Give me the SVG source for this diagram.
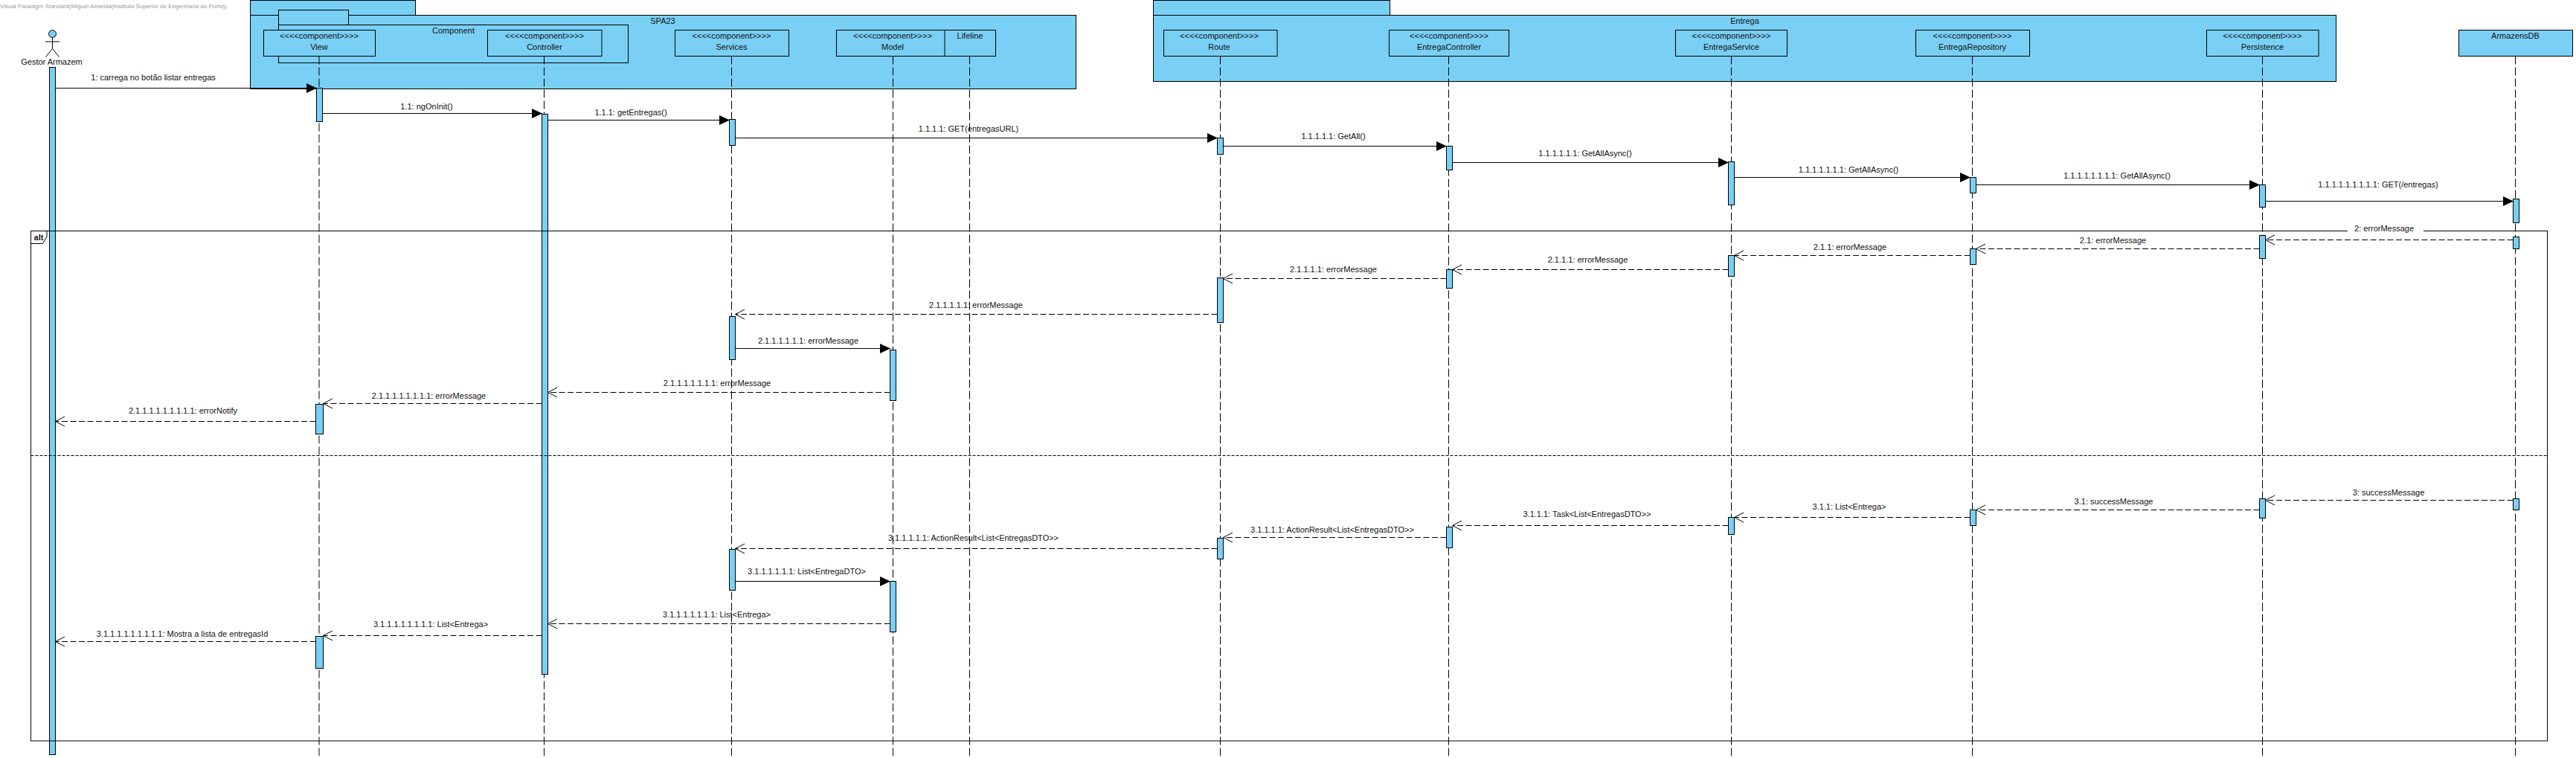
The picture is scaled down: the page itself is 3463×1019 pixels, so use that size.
<svg xmlns="http://www.w3.org/2000/svg" width="3463" height="1019" viewBox="0 0 3463 1019">
<style>
text{font-family:"Liberation Sans",Arial,sans-serif;font-size:11px;fill:#111;text-anchor:middle}
.wm{font-size:8px;fill:#999;text-anchor:start}
.b{font-weight:bold}
.p,.h,.a{fill:#7ACFF5;stroke:#000;stroke-width:1}
.ll{stroke:#000;stroke-width:1;stroke-dasharray:11 4;fill:none}
.f{fill:none;stroke:#000;stroke-width:1}
.div{stroke:#000;stroke-width:1;stroke-dasharray:4 2}
.s{stroke:#000;stroke-width:1.2;marker-end:url(#fa)}
.r{stroke:#000;stroke-width:1;stroke-dasharray:8 3.5;marker-end:url(#oa)}
.ac{fill:none;stroke:#000;stroke-width:1}
</style>
<defs>
<marker id="fa" markerUnits="userSpaceOnUse" markerWidth="16" markerHeight="16" refX="14.5" refY="7" orient="auto"><path d="M0.5 0.5L14.5 7L0.5 13.5Z" fill="#000"/></marker>
<marker id="oa" markerUnits="userSpaceOnUse" markerWidth="16" markerHeight="16" refX="14" refY="7" orient="auto"><path d="M1.5 0.5L14 7L1.5 13.5" fill="none" stroke="#000" stroke-width="1" stroke-dasharray="none"/></marker>
</defs>
<rect width="3463" height="1019" fill="#fff"/>
<text class="wm" x="0" y="11">Visual Paradigm Standard(Miguel Almeida(Instituto Superior de Engenharia do Porto))</text>

<g id="pkg-spa23">
<rect class="p" x="336.5" y="0.5" width="222" height="20"/>
<rect class="p" x="336.5" y="20.5" width="1110" height="99"/>
<text x="891" y="32">SPA23</text>
</g>
<g id="pkg-component">
<rect class="p" x="374.5" y="13.5" width="94" height="20"/>
<rect class="p" x="374.5" y="33.5" width="470" height="51"/>
<text x="609.5" y="45">Component</text>
</g>
<g id="pkg-entrega">
<rect class="p" x="1550.5" y="0.5" width="318" height="20"/>
<rect class="p" x="1550.5" y="20.5" width="1590" height="89"/>
<text x="2345.5" y="32">Entrega</text>
</g>

<g id="actor-gestor">
<circle cx="70.5" cy="45.5" r="5" fill="#7ACFF5" stroke="#000"/>
<path class="ac" d="M70.5 50.5V65.5M61 56H80M70.5 65.5L61.5 76.5M70.5 65.5L79.5 76.5"/>
<text x="69.5" y="87">Gestor Armazem</text>
<rect class="a" x="66.5" y="90.5" width="8" height="924"/>
</g>
<g id="view">
<line class="ll" x1="429" y1="75.5" x2="429" y2="1016"/>
<rect class="h" x="354.5" y="40.5" width="150" height="35"/>
<text x="429" y="52">&lt;&lt;&lt;&lt;component&gt;&gt;&gt;&gt;</text><text x="429" y="67">View</text>
<rect class="a" x="425.5" y="118.5" width="8" height="45"/>
<rect class="a" x="424.5" y="543.5" width="10" height="40"/>
<rect class="a" x="424.5" y="855.5" width="10" height="43"/>
</g>
<g id="controller">
<line class="ll" x1="731.5" y1="75.5" x2="731.5" y2="1016"/>
<rect class="h" x="655.5" y="40.5" width="153.5" height="35"/>
<text x="732" y="52">&lt;&lt;&lt;&lt;component&gt;&gt;&gt;&gt;</text><text x="732" y="67">Controller</text>
<rect class="a" x="728.5" y="153.5" width="8" height="753"/>
</g>
<g id="services">
<line class="ll" x1="983.5" y1="75.5" x2="983.5" y2="1016"/>
<rect class="h" x="907.5" y="40.5" width="153" height="35"/>
<text x="983.5" y="52">&lt;&lt;&lt;&lt;component&gt;&gt;&gt;&gt;</text><text x="983.5" y="67">Services</text>
<rect class="a" x="980.5" y="160.5" width="8" height="35"/>
<rect class="a" x="980.5" y="425.5" width="8" height="58"/>
<rect class="a" x="980.5" y="738.5" width="8" height="55"/>
</g>
<g id="model">
<line class="ll" x1="1200.5" y1="75.5" x2="1200.5" y2="1016"/>
<rect class="h" x="1124.5" y="40.5" width="152" height="35"/>
<text x="1200" y="52">&lt;&lt;&lt;&lt;component&gt;&gt;&gt;&gt;</text><text x="1200" y="67">Model</text>
<rect class="a" x="1196.5" y="470.5" width="8" height="68"/>
<rect class="a" x="1196.5" y="781.5" width="8" height="68"/>
</g>
<g id="lifeline">
<line class="ll" x1="1303.5" y1="75.5" x2="1303.5" y2="1016"/>
<rect class="h" x="1270" y="40.5" width="68.5" height="35"/>
<text x="1304" y="52">Lifeline</text>
</g>
<g id="route">
<line class="ll" x1="1640.5" y1="75.5" x2="1640.5" y2="1016"/>
<rect class="h" x="1564.5" y="40.5" width="152.5" height="35"/>
<text x="1639" y="52">&lt;&lt;&lt;&lt;component&gt;&gt;&gt;&gt;</text><text x="1639" y="67">Route</text>
<rect class="a" x="1636.5" y="185.5" width="8" height="22"/>
<rect class="a" x="1636.5" y="373.5" width="8" height="60"/>
<rect class="a" x="1636.5" y="723.5" width="8" height="28"/>
</g>
<g id="entregacontroller">
<line class="ll" x1="1947.5" y1="75.5" x2="1947.5" y2="1016"/>
<rect class="h" x="1867.5" y="40.5" width="161" height="35"/>
<text x="1948" y="52">&lt;&lt;&lt;&lt;component&gt;&gt;&gt;&gt;</text><text x="1948" y="67">EntregaController</text>
<rect class="a" x="1944.5" y="196.5" width="8" height="32"/>
<rect class="a" x="1944.5" y="362.5" width="8" height="25"/>
<rect class="a" x="1944.5" y="708.5" width="8" height="28"/>
</g>
<g id="entregaservice">
<line class="ll" x1="2327.5" y1="75.5" x2="2327.5" y2="1016"/>
<rect class="h" x="2252.5" y="40.5" width="150" height="35"/>
<text x="2327.5" y="52">&lt;&lt;&lt;&lt;component&gt;&gt;&gt;&gt;</text><text x="2327.5" y="67">EntregaService</text>
<rect class="a" x="2323.5" y="217.5" width="8" height="58"/>
<rect class="a" x="2323.5" y="343.5" width="8" height="28"/>
<rect class="a" x="2323.5" y="695.5" width="8" height="23"/>
</g>
<g id="entregarepository">
<line class="ll" x1="2651.5" y1="75.5" x2="2651.5" y2="1016"/>
<rect class="h" x="2575.5" y="40.5" width="153" height="35"/>
<text x="2651.5" y="52">&lt;&lt;&lt;&lt;component&gt;&gt;&gt;&gt;</text><text x="2651.5" y="67">EntregaRepository</text>
<rect class="a" x="2648.5" y="238.5" width="8" height="21"/>
<rect class="a" x="2648.5" y="334.5" width="8" height="21"/>
<rect class="a" x="2648.5" y="685.5" width="8" height="21"/>
</g>
<g id="persistence">
<line class="ll" x1="3041.5" y1="75.5" x2="3041.5" y2="1016"/>
<rect class="h" x="2966.5" y="40.5" width="150.5" height="35"/>
<text x="3041.5" y="52">&lt;&lt;&lt;&lt;component&gt;&gt;&gt;&gt;</text><text x="3041.5" y="67">Persistence</text>
<rect class="a" x="3037.5" y="248.5" width="8" height="30"/>
<rect class="a" x="3037.5" y="316.5" width="8" height="31"/>
<rect class="a" x="3037.5" y="670.5" width="8" height="26"/>
</g>
<g id="armazensdb">
<line class="ll" x1="3381.5" y1="75.5" x2="3381.5" y2="1016"/>
<rect class="h" x="3305.5" y="40.5" width="153" height="35"/>
<text x="3381.5" y="52">ArmazensDB</text>
<rect class="a" x="3378.5" y="267.5" width="8" height="32"/>
<rect class="a" x="3378.5" y="318.5" width="8" height="16"/>
<rect class="a" x="3378.5" y="670.5" width="8" height="15"/>
</g>

<g id="frame-alt">
<rect class="f" x="41.5" y="310.5" width="3383" height="685.5"/>
<path class="f" d="M41.5 327.5H57.5L63 318V310.5"/>
<text class="b" x="52" y="322.5">alt</text>
<line class="div" x1="41.5" y1="612.5" x2="3424.5" y2="612.5"/>
</g>

<g id="connectors">
<line class="s" x1="74.5" y1="118.5" x2="426" y2="118.5"/>
<line class="s" x1="433.5" y1="152.5" x2="729" y2="152.5"/>
<line class="s" x1="736.5" y1="161.5" x2="981" y2="161.5"/>
<line class="s" x1="988.5" y1="185.5" x2="1637" y2="185.5"/>
<line class="s" x1="1644.5" y1="196.5" x2="1945" y2="196.5"/>
<line class="s" x1="1952.5" y1="218.5" x2="2324" y2="218.5"/>
<line class="s" x1="2331.5" y1="238.5" x2="2649" y2="238.5"/>
<line class="s" x1="2656.5" y1="248.5" x2="3038" y2="248.5"/>
<line class="s" x1="3045.5" y1="270.5" x2="3379" y2="270.5"/>
<line class="r" x1="3378.5" y1="322.5" x2="3045.5" y2="322.5"/>
<line class="r" x1="3037.5" y1="334.5" x2="2656.5" y2="334.5"/>
<line class="r" x1="2648.5" y1="343.5" x2="2331.5" y2="343.5"/>
<line class="r" x1="2323.5" y1="362.5" x2="1952.5" y2="362.5"/>
<line class="r" x1="1944.5" y1="374.5" x2="1644.5" y2="374.5"/>
<line class="r" x1="1636.5" y1="422.5" x2="988.5" y2="422.5"/>
<line class="s" x1="988.5" y1="468.5" x2="1197" y2="468.5"/>
<line class="r" x1="1196.5" y1="527.5" x2="736.5" y2="527.5"/>
<line class="r" x1="728.5" y1="542.5" x2="434.5" y2="542.5"/>
<line class="r" x1="424.5" y1="566.5" x2="74.5" y2="566.5"/>
<line class="r" x1="3378.5" y1="672.5" x2="3045.5" y2="672.5"/>
<line class="r" x1="3037.5" y1="685.5" x2="2656.5" y2="685.5"/>
<line class="r" x1="2648.5" y1="695.5" x2="2331.5" y2="695.5"/>
<line class="r" x1="2323.5" y1="706.5" x2="1952.5" y2="706.5"/>
<line class="r" x1="1944.5" y1="722.5" x2="1644.5" y2="722.5"/>
<line class="r" x1="1636.5" y1="737.5" x2="988.5" y2="737.5"/>
<line class="s" x1="988.5" y1="781.5" x2="1197" y2="781.5"/>
<line class="r" x1="1196.5" y1="838.5" x2="736.5" y2="838.5"/>
<line class="r" x1="728.5" y1="854.5" x2="434.5" y2="854.5"/>
<line class="r" x1="424.5" y1="862.5" x2="74.5" y2="862.5"/>
</g>

<g id="message-labels">
<text x="206" y="108">1: carrega no botão listar entregas</text>
<text x="573.5" y="147">1.1: ngOnInit()</text>
<text x="848" y="155">1.1.1: getEntregas()</text>
<text x="1302" y="177">1.1.1.1: GET(entregasURL)</text>
<text x="1792.5" y="187">1.1.1.1.1: GetAll()</text>
<text x="2131" y="210">1.1.1.1.1.1: GetAllAsync()</text>
<text x="2485" y="232">1.1.1.1.1.1.1: GetAllAsync()</text>
<text x="2846" y="240">1.1.1.1.1.1.1.1: GetAllAsync()</text>
<text x="3197" y="252">1.1.1.1.1.1.1.1.1: GET(/entregas)</text>
<rect x="3156" y="303" width="102" height="12" fill="#fff"/>
<text x="3205" y="311">2: errorMessage</text>
<text x="2840.5" y="327">2.1: errorMessage</text>
<text x="2487" y="336">2.1.1: errorMessage</text>
<text x="2134.5" y="353">2.1.1.1: errorMessage</text>
<text x="1792.5" y="366">2.1.1.1.1: errorMessage</text>
<text x="1312" y="414">2.1.1.1.1.1: errorMessage</text>
<text x="1086.5" y="462">2.1.1.1.1.1.1: errorMessage</text>
<text x="964" y="519">2.1.1.1.1.1.1.1: errorMessage</text>
<text x="576.5" y="536">2.1.1.1.1.1.1.1.1: errorMessage</text>
<text x="246" y="556">2.1.1.1.1.1.1.1.1.1: errorNotify</text>
<text x="3211" y="666">3: successMessage</text>
<text x="2841.5" y="678">3.1: successMessage</text>
<text x="2486" y="685">3.1.1: List&lt;Entrega&gt;</text>
<text x="2133.5" y="695">3.1.1.1: Task&lt;List&lt;EntregasDTO&gt;&gt;</text>
<text x="1791" y="716">3.1.1.1.1: ActionResult&lt;List&lt;EntregasDTO&gt;&gt;</text>
<text x="1308.5" y="727">3.1.1.1.1.1: ActionResult&lt;List&lt;EntregasDTO&gt;&gt;</text>
<text x="1084.5" y="772">3.1.1.1.1.1.1: List&lt;EntregaDTO&gt;</text>
<text x="963.5" y="830">3.1.1.1.1.1.1.1: List&lt;Entrega&gt;</text>
<text x="579" y="843">3.1.1.1.1.1.1.1.1: List&lt;Entrega&gt;</text>
<text x="245" y="856">3.1.1.1.1.1.1.1.1.1: Mostra a lista de entregasId</text>
</g>
</svg>
